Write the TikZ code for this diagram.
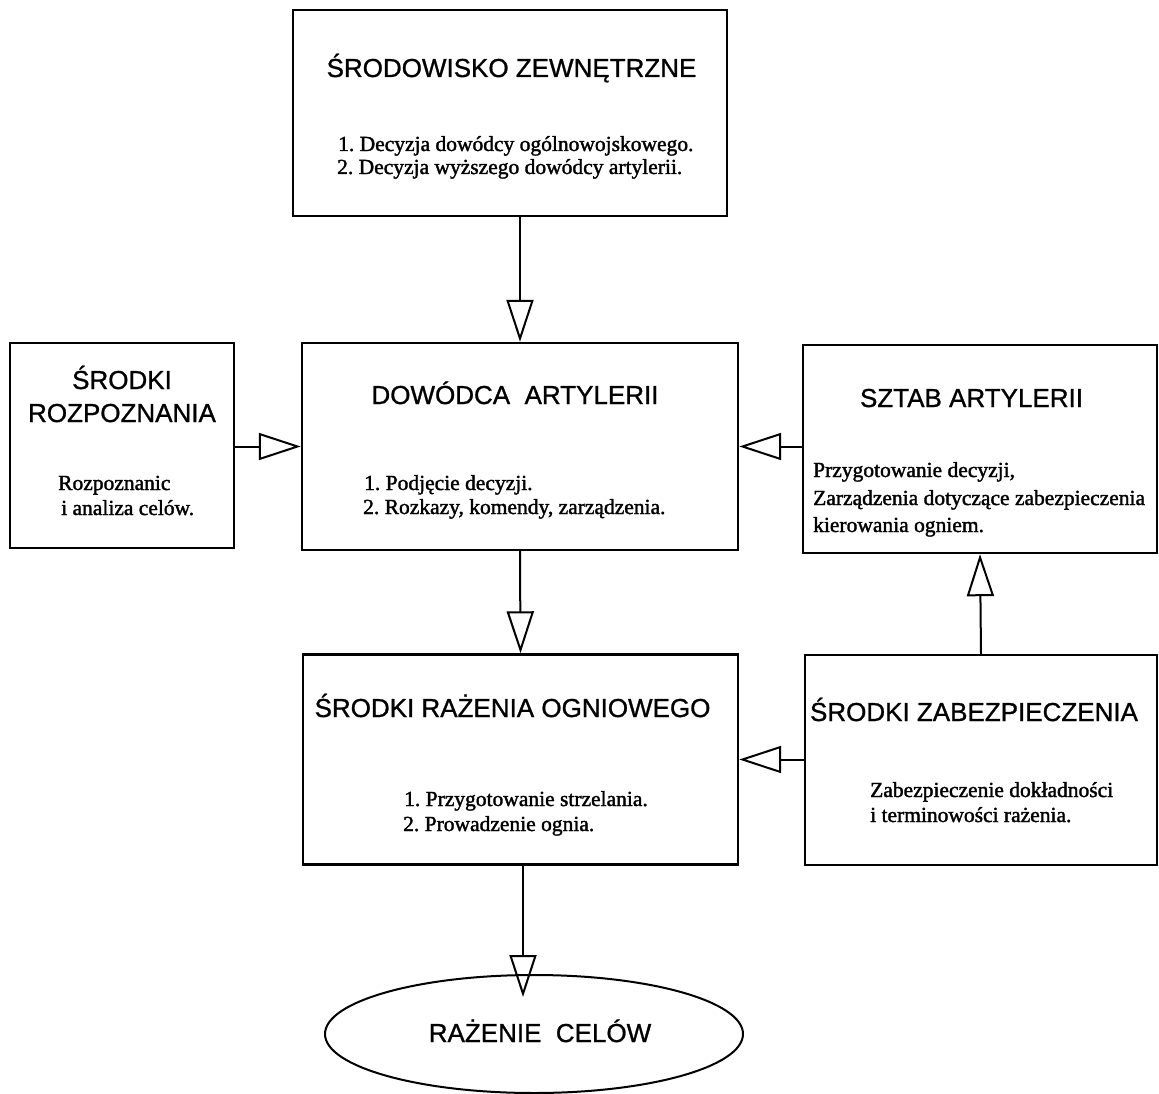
\documentclass[tikz,border=0pt]{standalone}
\usepackage{fontspec}
\setmainfont{Liberation Serif}
\newfontfamily\inkfont{Liberation Serif}[FakeBold=1.6]
\newfontfamily\headfont{Liberation Sans}[FakeBold=1.0]
\usetikzlibrary{arrows.meta,shapes.geometric}
\frenchspacing
\begin{document}
\begin{tikzpicture}[x=1pt,y=-1pt,
  box/.style={draw, line width=2.4pt, inner sep=0pt},
  head/.style={font=\headfont\fontsize{26}{30}\selectfont, anchor=base, inner sep=0pt},
  body/.style={font=\inkfont\fontsize{21.5}{24}\selectfont, anchor=base west, inner sep=0pt},
  flow/.style={line width=2pt, -{Triangle[open, length=42pt, width=27pt, line width=2pt]}}]
\useasboundingbox (0,0) rectangle (1159,1094);

% boxes
\node[box, minimum width=434pt, minimum height=206pt] (env) at (510,113) {};
\node[box, minimum width=224pt, minimum height=205pt] (rec) at (122,445.5) {};
\node[box, minimum width=436pt, minimum height=207pt] (cmd) at (520,446.5) {};
\node[box, minimum width=354pt, minimum height=208pt] (staff) at (980,449) {};
\node[box, minimum width=435pt, minimum height=210pt] (fire) at (520.5,759.5) {};
\node[box, minimum width=352pt, minimum height=210pt] (sec) at (981,760) {};
\node[draw, ellipse, line width=2pt, minimum width=418pt, minimum height=118pt] (goal) at (534,1034) {};

% headings
\node[head] (envT) at (511.5,77) {ŚRODOWISKO ZEWNĘTRZNE};
\node[head] (recT1) at (122,389) {ŚRODKI};
\node[head] (recT2) at (122,422) {ROZPOZNANIA};
\node[head] (cmdT) at (515,404) {DOWÓDCA\ \ ARTYLERII};
\node[head] (staffT) at (971.5,407) {SZTAB ARTYLERII};
\node[head] (fireT) at (512.5,717) {ŚRODKI RAŻENIA OGNIOWEGO};
\node[head] (secT) at (974,721) {ŚRODKI ZABEZPIECZENIA};
\node[head] (goalT) at (540,1042) {RAŻENIE\ \ CELÓW};

% descriptions
\node[body] (envA) at (338,151) {1. Decyzja dowódcy ogólnowojskowego.};
\node[body] (envB) at (337,174) {2. Decyzja wyższego dowódcy artylerii.};
\node[body] (recA) at (58,490) {Rozpoznanic};
\node[body] (recB) at (61,515) {i analiza celów.};
\node[body] (cmdA) at (364,490) {1. Podjęcie decyzji.};
\node[body] (cmdB) at (363,514) {2. Rozkazy, komendy, zarządzenia.};
\node[body] (staffA) at (813,477) {Przygotowanie decyzji,};
\node[body] (staffB) at (813,505) {Zarządzenia dotyczące zabezpieczenia};
\node[body] (staffC) at (813,532) {kierowania ogniem.};
\node[body] (fireA) at (404,806) {1. Przygotowanie strzelania.};
\node[body] (fireB) at (403,831) {2. Prowadzenie ognia.};
\node[body] (secA) at (870,797) {Zabezpieczenie dokładności};
\node[body] (secB) at (870,822) {i terminowości rażenia.};

% connectors
\coordinate (hit) at (523,997);
\draw[flow] (cmd.north |- env.south) -- (cmd.north);
\draw[flow] (rec.east |- cmd.east) -- (cmd.east -| cmd.west);
\draw[flow] (staff.west |- cmd.east) -- (cmd.east);
\draw[flow] (cmd.south) -- (fire.north);
\draw[flow] (sec.north) -- (staff.south);
\draw[flow] (sec.west |- fire.east) -- (fire.east);
\draw[flow] (hit |- fire.south) -- (hit);
\end{tikzpicture}
\end{document}
